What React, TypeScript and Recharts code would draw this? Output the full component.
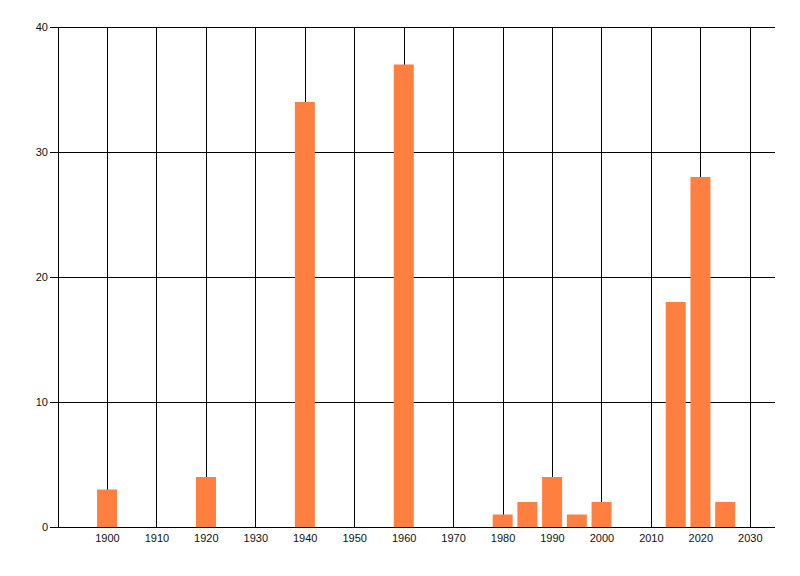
import { BarChart, Bar, CartesianGrid, XAxis, YAxis } from "recharts"

const years = [1900, 1920, 1940, 1960, 1980, 1985, 1990, 1995, 2000, 2015, 2020, 2025]
const counts = [3, 4, 34, 37, 1, 2, 4, 1, 2, 18, 28, 2]
const xTicks = [1900, 1910, 1920, 1930, 1940, 1950, 1960, 1970, 1980, 1990, 2000, 2010, 2020, 2030]
const yTicks = [0, 10, 20, 30, 40]

const data = years.map((year, i) => ({ year, count: counts[i] }))

const tickStyle = { fontFamily: "Liberation Sans, Arial, sans-serif", fontSize: 11, fill: "#111" }

export default function App() {
  return (
    <BarChart
      data={data}
      width={784}
      height={560}
      margin={{ top: 19, right: 17, bottom: 0, left: 0 }}
    >
      <CartesianGrid stroke="#000" strokeWidth={1} shapeRendering="crispEdges" syncWithTicks />
      <XAxis
        dataKey="year"
        type="number"
        domain={[1890, 2035]}
        ticks={xTicks}
        interval={0}
        height={41}
        tickLine={false}
        tickSize={5}
        tickMargin={2}
        tick={tickStyle}
        axisLine={{ stroke: "#000", shapeRendering: "crispEdges" }}
      />
      <YAxis
        domain={[0, 40]}
        ticks={yTicks}
        width={50}
        tickSize={8}
        tickMargin={2}
        tick={tickStyle}
        axisLine={{ stroke: "#000", shapeRendering: "crispEdges" }}
        tickLine={{ stroke: "#000", shapeRendering: "crispEdges" }}
      />
      <Bar dataKey="count" fill="#FF7F40" barSize={20} isAnimationActive={false} />
    </BarChart>
  )
}
